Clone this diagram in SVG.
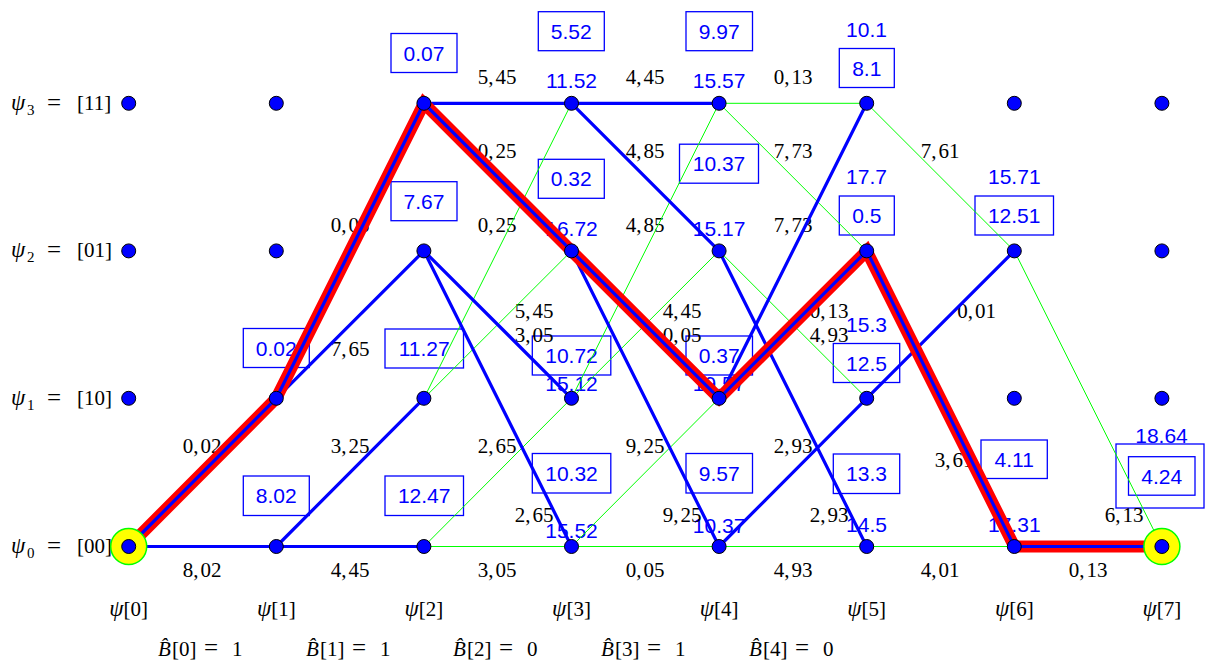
<svg xmlns="http://www.w3.org/2000/svg" width="1205" height="661" viewBox="0 0 1205 661">
<style>
.g{stroke:#00ff00;stroke-width:1;fill:none}
.b{stroke:#0000ff;stroke-width:3.2;fill:none;stroke-linecap:round}
.r{stroke:#ff0000;stroke-width:12;fill:none;stroke-linejoin:miter;stroke-miterlimit:3}
.rb{stroke:#0000ff;stroke-width:3.2;fill:none;stroke-linejoin:miter}
.bx{fill:none;stroke:#0000ff;stroke-width:1.3}
.v{font-family:"Liberation Sans",Arial,sans-serif;font-size:21px;fill:#0000ff;text-anchor:middle}
.w{font-family:"Liberation Serif","Times New Roman",serif;font-size:21px;fill:#000;text-anchor:middle}
.t{font-family:"Liberation Serif","Times New Roman",serif;font-size:21px;fill:#000}
.i{font-style:italic}
.p{font-style:italic;font-size:23px}
.e{font-size:25px}
.n{fill:#0000ff;stroke:#000;stroke-width:1}
.s{fill:#ffff00;stroke:#00ff00;stroke-width:1.5}
</style>
<rect width="1205" height="661" fill="#fff"/>
<g id="axis-labels">
<text class="t" x="11" y="110"><tspan class="p">ψ</tspan><tspan x="27" dy="5" font-size="15">3 </tspan><tspan class="e" x="47" dy="-4">= </tspan><tspan x="77" dy="-1">[11]</tspan></text>
<text class="t" x="11" y="257"><tspan class="p">ψ</tspan><tspan x="27" dy="5" font-size="15">2 </tspan><tspan class="e" x="47" dy="-4">= </tspan><tspan x="77" dy="-1">[01]</tspan></text>
<text class="t" x="11" y="405"><tspan class="p">ψ</tspan><tspan x="27" dy="5" font-size="15">1 </tspan><tspan class="e" x="47" dy="-4">= </tspan><tspan x="77" dy="-1">[10]</tspan></text>
<text class="t" x="11" y="553"><tspan class="p">ψ</tspan><tspan x="27" dy="5" font-size="15">0 </tspan><tspan class="e" x="47" dy="-4">= </tspan><tspan x="77" dy="-1">[00]</tspan></text>
<text class="w" x="128.7" y="616"><tspan class="p">ψ</tspan>[0]</text>
<text class="w" x="276.3" y="616"><tspan class="p">ψ</tspan>[1]</text>
<text class="w" x="423.9" y="616"><tspan class="p">ψ</tspan>[2]</text>
<text class="w" x="571.5" y="616"><tspan class="p">ψ</tspan>[3]</text>
<text class="w" x="719.1" y="616"><tspan class="p">ψ</tspan>[4]</text>
<text class="w" x="866.7" y="616"><tspan class="p">ψ</tspan>[5]</text>
<text class="w" x="1014.3" y="616"><tspan class="p">ψ</tspan>[6]</text>
<text class="w" x="1161.9" y="616"><tspan class="p">ψ</tspan>[7]</text>
<text class="t" x="158" y="656"><tspan class="i">B̂</tspan><tspan x="172">[0] </tspan><tspan class="e" x="204">= </tspan><tspan x="232">1</tspan></text>
<text class="t" x="306" y="656"><tspan class="i">B̂</tspan><tspan x="320">[1] </tspan><tspan class="e" x="352">= </tspan><tspan x="380">1</tspan></text>
<text class="t" x="453" y="656"><tspan class="i">B̂</tspan><tspan x="467">[2] </tspan><tspan class="e" x="499">= </tspan><tspan x="527">0</tspan></text>
<text class="t" x="601" y="656"><tspan class="i">B̂</tspan><tspan x="615">[3] </tspan><tspan class="e" x="647">= </tspan><tspan x="675">1</tspan></text>
<text class="t" x="749" y="656"><tspan class="i">B̂</tspan><tspan x="763">[4] </tspan><tspan class="e" x="795">= </tspan><tspan x="823">0</tspan></text>
</g>
<g id="metrics">
<rect class="bx" x="391" y="33.5" width="66" height="39"/><text class="v" x="424" y="60.5">0.07</text>
<rect class="bx" x="538.3" y="11.7" width="66" height="39"/><text class="v" x="571.3" y="38.7">5.52</text>
<rect class="bx" x="686" y="11.7" width="66.5" height="39"/><text class="v" x="719.2" y="38.7">9.97</text>
<rect class="bx" x="839.3" y="48.5" width="55" height="39"/><text class="v" x="866.8" y="75.5">8.1</text>
<rect class="bx" x="391" y="181.7" width="66" height="39"/><text class="v" x="424" y="208.7">7.67</text>
<rect class="bx" x="538.3" y="159.3" width="66" height="39"/><text class="v" x="571.3" y="186.3">0.32</text>
<rect class="bx" x="679.5" y="144.2" width="79" height="39"/><text class="v" x="719" y="171.2">10.37</text>
<rect class="bx" x="839.3" y="196" width="55" height="39"/><text class="v" x="866.8" y="223">0.5</text>
<rect class="bx" x="975" y="196" width="78.5" height="39"/><text class="v" x="1014.2" y="223">12.51</text>
<rect class="bx" x="243.3" y="328.5" width="66" height="39"/><text class="v" x="276.3" y="355.5">0.02</text>
<rect class="bx" x="385" y="329" width="78.5" height="39"/><text class="v" x="424.2" y="356">11.27</text>
<rect class="bx" x="532.3" y="336" width="78.5" height="39"/><text class="v" x="571.5" y="363">10.72</text>
<rect class="bx" x="686" y="336" width="66.5" height="39"/><text class="v" x="719.2" y="363">0.37</text>
<rect class="bx" x="833.3" y="343.5" width="66.4" height="39"/><text class="v" x="866.5" y="370.5">12.5</text>
<rect class="bx" x="243.3" y="476" width="66" height="39.5"/><text class="v" x="276.3" y="503">8.02</text>
<rect class="bx" x="385" y="476" width="78.5" height="39.5"/><text class="v" x="424.2" y="503">12.47</text>
<rect class="bx" x="532.3" y="453.5" width="78.5" height="39.5"/><text class="v" x="571.5" y="480.5">10.32</text>
<rect class="bx" x="686" y="453.5" width="66.5" height="39.5"/><text class="v" x="719.2" y="480.5">9.57</text>
<rect class="bx" x="833.3" y="454" width="66.4" height="39.5"/><text class="v" x="866.5" y="481">13.3</text>
<rect class="bx" x="981" y="440" width="66.3" height="38.5"/><text class="v" x="1014.2" y="466.5">4.11</text>
<rect class="bx" x="1116" y="444" width="88" height="64"/>
<rect class="bx" x="1128.5" y="456.7" width="66.5" height="38.5"/><text class="v" x="1161.7" y="483.5">4.24</text>
<text class="v" x="866.5" y="36.5">10.1</text>
<text class="v" x="571.5" y="87.5">11.52</text>
<text class="v" x="719.1" y="87.5">15.57</text>
<text class="v" x="866.5" y="183.5">17.7</text>
<text class="v" x="1014.3" y="183.5">15.71</text>
<text class="v" x="571.5" y="235.5">16.72</text>
<text class="v" x="719.1" y="235.5">15.17</text>
<text class="v" x="866.5" y="331.5">15.3</text>
<text class="v" x="571.5" y="391">15.12</text>
<text class="v" x="719.1" y="391">19.57</text>
<text class="v" x="1161.5" y="442.5">18.64</text>
<text class="v" x="571.5" y="537.5">15.52</text>
<text class="v" x="719.1" y="532.5">10.37</text>
<text class="v" x="866.5" y="531.5">14.5</text>
<text class="v" x="1014.3" y="531.5">17.31</text>
</g>
<g id="weights">
<text class="w" x="497" y="84">5,<tspan dx="2">45</tspan></text>
<text class="w" x="645" y="84">4,<tspan dx="2">45</tspan></text>
<text class="w" x="793" y="84">0,<tspan dx="2">13</tspan></text>
<text class="w" x="497" y="158">0,<tspan dx="2">25</tspan></text>
<text class="w" x="645" y="158">4,<tspan dx="2">85</tspan></text>
<text class="w" x="793" y="158">7,<tspan dx="2">73</tspan></text>
<text class="w" x="940" y="158">7,<tspan dx="2">61</tspan></text>
<text class="w" x="350" y="232">0,<tspan dx="2">05</tspan></text>
<text class="w" x="497" y="232">0,<tspan dx="2">25</tspan></text>
<text class="w" x="645" y="232">4,<tspan dx="2">85</tspan></text>
<text class="w" x="793" y="232">7,<tspan dx="2">73</tspan></text>
<text class="w" x="534" y="318">5,<tspan dx="2">45</tspan></text>
<text class="w" x="682" y="318">4,<tspan dx="2">45</tspan></text>
<text class="w" x="829" y="318">0,<tspan dx="2">13</tspan></text>
<text class="w" x="976.5" y="318">0,<tspan dx="2">01</tspan></text>
<text class="w" x="534" y="342">3,<tspan dx="2">05</tspan></text>
<text class="w" x="682" y="342">0,<tspan dx="2">05</tspan></text>
<text class="w" x="829" y="342">4,<tspan dx="2">93</tspan></text>
<text class="w" x="350" y="356">7,<tspan dx="2">65</tspan></text>
<text class="w" x="202" y="453">0,<tspan dx="2">02</tspan></text>
<text class="w" x="350" y="453">3,<tspan dx="2">25</tspan></text>
<text class="w" x="497" y="453">2,<tspan dx="2">65</tspan></text>
<text class="w" x="645" y="453">9,<tspan dx="2">25</tspan></text>
<text class="w" x="793" y="453">2,<tspan dx="2">93</tspan></text>
<text class="w" x="954" y="467">3,<tspan dx="2">61</tspan></text>
<text class="w" x="534" y="522">2,<tspan dx="2">65</tspan></text>
<text class="w" x="682" y="522">9,<tspan dx="2">25</tspan></text>
<text class="w" x="829" y="522">2,<tspan dx="2">93</tspan></text>
<text class="w" x="1124" y="522">6,<tspan dx="2">13</tspan></text>
<text class="w" x="202" y="577">8,<tspan dx="2">02</tspan></text>
<text class="w" x="350" y="577">4,<tspan dx="2">45</tspan></text>
<text class="w" x="497" y="577">3,<tspan dx="2">05</tspan></text>
<text class="w" x="645" y="577">0,<tspan dx="2">05</tspan></text>
<text class="w" x="793" y="577">4,<tspan dx="2">93</tspan></text>
<text class="w" x="940" y="577">4,<tspan dx="2">01</tspan></text>
<text class="w" x="1088" y="577">0,<tspan dx="2">13</tspan></text>
</g>
<g id="connectors">
<g id="discarded">
<line class="g" x1="423.9" y1="398.3" x2="571.5" y2="103.3"/>
<line class="g" x1="423.9" y1="398.3" x2="571.5" y2="250.9"/>
<line class="g" x1="423.9" y1="546.5" x2="571.5" y2="546.5"/>
<line class="g" x1="423.9" y1="546.5" x2="571.5" y2="398.3"/>
<line class="g" x1="571.5" y1="398.3" x2="719.1" y2="103.3"/>
<line class="g" x1="571.5" y1="398.3" x2="719.1" y2="250.9"/>
<line class="g" x1="571.5" y1="546.5" x2="719.1" y2="546.5"/>
<line class="g" x1="571.5" y1="546.5" x2="719.1" y2="398.3"/>
<line class="g" x1="719.1" y1="103.3" x2="866.7" y2="103.3"/>
<line class="g" x1="719.1" y1="103.3" x2="866.7" y2="250.9"/>
<line class="g" x1="719.1" y1="250.9" x2="866.7" y2="398.3"/>
<line class="g" x1="719.1" y1="546.5" x2="866.7" y2="546.5"/>
<line class="g" x1="866.7" y1="103.3" x2="1014.3" y2="250.9"/>
<line class="g" x1="866.7" y1="546.5" x2="1014.3" y2="546.5"/>
<line class="g" x1="1014.3" y1="250.9" x2="1161.9" y2="546.5"/>
</g>
<g id="survivors">
<line class="b" x1="128.7" y1="546.5" x2="276.3" y2="546.5"/>
<line class="b" x1="276.3" y1="546.5" x2="423.9" y2="546.5"/>
<line class="b" x1="276.3" y1="546.5" x2="423.9" y2="398.3"/>
<line class="b" x1="276.3" y1="398.3" x2="423.9" y2="250.9"/>
<line class="b" x1="423.9" y1="103.3" x2="571.5" y2="103.3"/>
<line class="b" x1="423.9" y1="250.9" x2="571.5" y2="398.3"/>
<line class="b" x1="423.9" y1="250.9" x2="571.5" y2="546.5"/>
<line class="b" x1="571.5" y1="103.3" x2="719.1" y2="103.3"/>
<line class="b" x1="571.5" y1="103.3" x2="719.1" y2="250.9"/>
<line class="b" x1="571.5" y1="250.9" x2="719.1" y2="546.5"/>
<line class="b" x1="719.1" y1="398.3" x2="866.7" y2="103.3"/>
<line class="b" x1="719.1" y1="250.9" x2="866.7" y2="546.5"/>
<line class="b" x1="719.1" y1="546.5" x2="866.7" y2="398.3"/>
<line class="b" x1="866.7" y1="398.3" x2="1014.3" y2="250.9"/>
</g>
<g id="best-path">
<polyline class="r" points="128.7,546.5 276.3,398.3 423.9,103.3 571.5,250.9 719.1,398.3 866.7,250.9 1014.3,546.5 1161.9,546.5"/>
<polyline class="rb" points="128.7,546.5 276.3,398.3 423.9,103.3 571.5,250.9 719.1,398.3 866.7,250.9 1014.3,546.5 1161.9,546.5"/>
</g>
</g>
<g id="nodes">
<g id="n0-0"><circle class="s" cx="128.7" cy="546.5" r="18"/><circle class="n" cx="128.7" cy="546.5" r="7"/></g>
<g id="n0-1"><circle class="n" cx="128.7" cy="398.3" r="7"/></g>
<g id="n0-2"><circle class="n" cx="128.7" cy="250.9" r="7"/></g>
<g id="n0-3"><circle class="n" cx="128.7" cy="103.3" r="7"/></g>
<g id="n1-0"><circle class="n" cx="276.3" cy="546.5" r="7"/></g>
<g id="n1-1"><circle class="n" cx="276.3" cy="398.3" r="7"/></g>
<g id="n1-2"><circle class="n" cx="276.3" cy="250.9" r="7"/></g>
<g id="n1-3"><circle class="n" cx="276.3" cy="103.3" r="7"/></g>
<g id="n2-0"><circle class="n" cx="423.9" cy="546.5" r="7"/></g>
<g id="n2-1"><circle class="n" cx="423.9" cy="398.3" r="7"/></g>
<g id="n2-2"><circle class="n" cx="423.9" cy="250.9" r="7"/></g>
<g id="n2-3"><circle class="n" cx="423.9" cy="103.3" r="7"/></g>
<g id="n3-0"><circle class="n" cx="571.5" cy="546.5" r="7"/></g>
<g id="n3-1"><circle class="n" cx="571.5" cy="398.3" r="7"/></g>
<g id="n3-2"><circle class="n" cx="571.5" cy="250.9" r="7"/></g>
<g id="n3-3"><circle class="n" cx="571.5" cy="103.3" r="7"/></g>
<g id="n4-0"><circle class="n" cx="719.1" cy="546.5" r="7"/></g>
<g id="n4-1"><circle class="n" cx="719.1" cy="398.3" r="7"/></g>
<g id="n4-2"><circle class="n" cx="719.1" cy="250.9" r="7"/></g>
<g id="n4-3"><circle class="n" cx="719.1" cy="103.3" r="7"/></g>
<g id="n5-0"><circle class="n" cx="866.7" cy="546.5" r="7"/></g>
<g id="n5-1"><circle class="n" cx="866.7" cy="398.3" r="7"/></g>
<g id="n5-2"><circle class="n" cx="866.7" cy="250.9" r="7"/></g>
<g id="n5-3"><circle class="n" cx="866.7" cy="103.3" r="7"/></g>
<g id="n6-0"><circle class="n" cx="1014.3" cy="546.5" r="7"/></g>
<g id="n6-1"><circle class="n" cx="1014.3" cy="398.3" r="7"/></g>
<g id="n6-2"><circle class="n" cx="1014.3" cy="250.9" r="7"/></g>
<g id="n6-3"><circle class="n" cx="1014.3" cy="103.3" r="7"/></g>
<g id="n7-0"><circle class="s" cx="1161.9" cy="546.5" r="18"/><circle class="n" cx="1161.9" cy="546.5" r="7"/></g>
<g id="n7-1"><circle class="n" cx="1161.9" cy="398.3" r="7"/></g>
<g id="n7-2"><circle class="n" cx="1161.9" cy="250.9" r="7"/></g>
<g id="n7-3"><circle class="n" cx="1161.9" cy="103.3" r="7"/></g>
</g>
</svg>
